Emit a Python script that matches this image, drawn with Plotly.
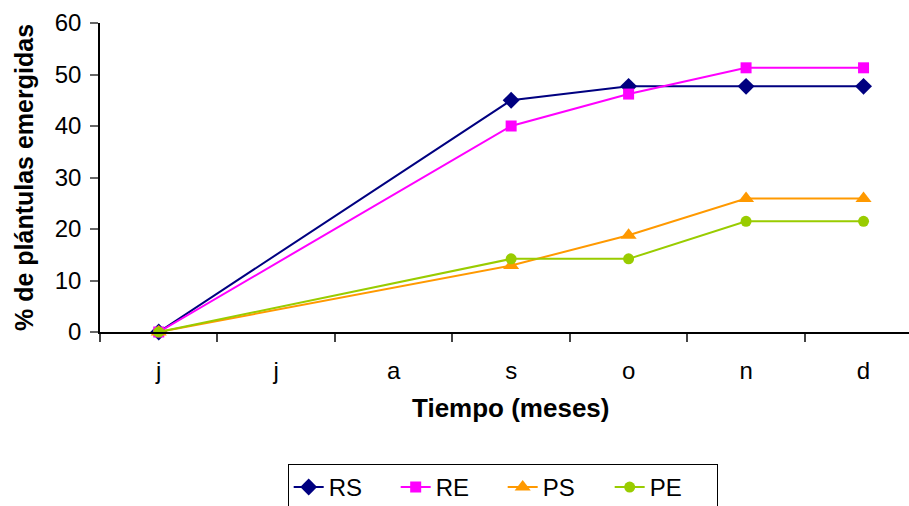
import plotly.graph_objects as go

months = ["j", "j", "a", "s", "o", "n", "d"]
RS = [0, None, None, 45.0, 47.7, 47.7, 47.7]
RE = [0, None, None, 40.0, 46.2, 51.3, 51.3]
PS = [0, None, None, 12.9, 18.8, 25.9, 25.9]
PE = [0, None, None, 14.2, 14.2, 21.5, 21.5]

series = [
    ("RS", RS, "#000080", "diamond", 13),
    ("RE", RE, "#FF00FF", "square", 11),
    ("PS", PS, "#FF9900", "triangle-up", 14),
    ("PE", PE, "#99CC00", "circle", 11),
]

xs = list(range(len(months)))
font = "Arial, Liberation Sans, sans-serif"

fig = go.Figure()
for name, vals, color, sym, size in series:
    fig.add_trace(go.Scatter(
        x=xs, y=vals, name=name, mode="lines+markers",
        connectgaps=True, cliponaxis=False,
        line=dict(color=color, width=2),
        marker=dict(symbol=sym, size=size, color=color),
    ))

fig.update_layout(
    width=909, height=506,
    margin=dict(l=100, r=0, t=23, b=174, autoexpand=False),
    paper_bgcolor="white", plot_bgcolor="white",
    font=dict(family=font, color="black", size=24),
    showlegend=True,
    legend=dict(
        orientation="h", x=0.232, xanchor="left", y=-0.427, yanchor="top",
        bordercolor="black", borderwidth=1, font=dict(size=24),
        entrywidth=62, entrywidthmode="pixels", tracegroupgap=0,
    ),
    xaxis=dict(
        range=[-0.5, 6.387], tickvals=xs, ticktext=months,
        showline=True, linecolor="black", linewidth=1.5,
        showgrid=False, zeroline=False, ticks="", automargin=False,
        ticklabelstandoff=16,
        tickfont=dict(size=24),
        minor=dict(tickvals=[i - 0.5 for i in range(8)], ticks="outside",
                   ticklen=8, tickcolor="#444", tickwidth=1.5),
    ),
    yaxis=dict(
        range=[0, 60], dtick=10, showline=True, linecolor="black", linewidth=1.5,
        showgrid=False, zeroline=False, ticks="outside", ticklen=8, automargin=False,
        tickcolor="#666", tickwidth=1.5, tickfont=dict(size=24),
        ticklabelstandoff=4,
        title=dict(text="<b>% de plántulas emergidas</b>", font=dict(size=25), standoff=14),
    ),
    annotations=[dict(
        text="<b>Tiempo (meses)</b>", xref="paper", yref="paper",
        x=0.508, y=-0.245, xanchor="center", yanchor="middle",
        showarrow=False, font=dict(size=26),
    )],
)

fig.write_html("out.html")
